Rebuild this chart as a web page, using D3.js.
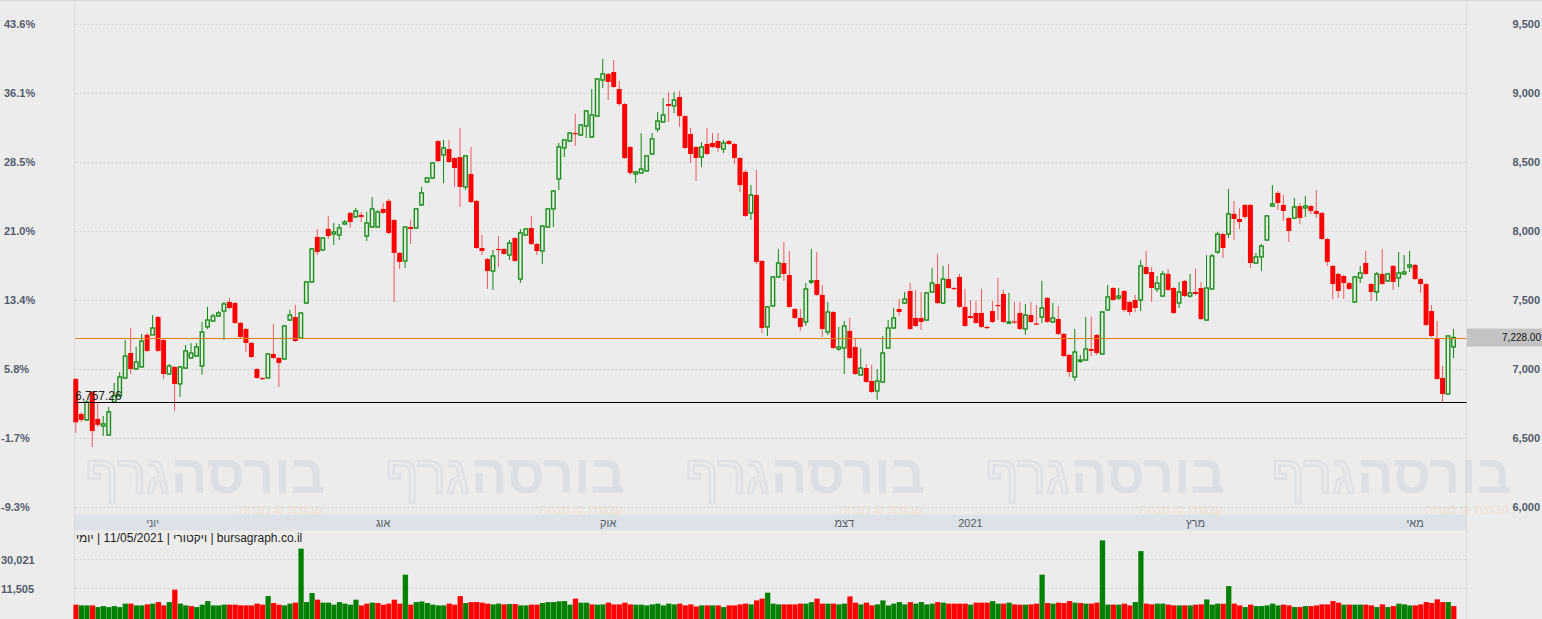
<!DOCTYPE html>
<html><head><meta charset="utf-8">
<script src="https://cdn.jsdelivr.net/npm/d3@7"></script>
<style>
html,body{margin:0;padding:0;background:#ececec;overflow:hidden;}
svg{display:block;font-family:"Liberation Sans",Arial,sans-serif;}
</style></head><body>
<svg id="c" width="1542" height="619"></svg>
<script>
const open = [6928,6674,6631,6834,6638,6587,6522,6761,6805,6935,7116,7000,7015,7247,7247,7377,7210,6964,7015,6892,7007,7080,7094,7022,7305,7348,7384,7420,7486,7478,7334,7290,7189,7000,6935,6935,7109,7080,7073,7355,7377,7225,7478,7631,7957,7862,8015,7978,7971,8051,8131,8102,8116,7964,8029,8029,8160,8218,8080,7841,7783,8029,8022,8189,8355,8384,8652,8551,8594,8529,8536,8319,8413,8218,7877,7797,7710,7870,7870,7826,7949,7652,7971,8022,7906,7855,8029,8160,8377,8602,8652,8710,8696,8761,8681,8833,9094,9138,9152,9029,8920,8609,8413,8420,8435,8558,8739,8790,8920,8906,8971,8833,8703,8609,8536,8631,8638,8652,8594,8652,8631,8529,8428,8131,8261,7783,7305,7457,7667,7768,7681,7435,7370,7341,7631,7645,7537,7268,7413,7145,7152,7276,7160,6957,7007,6913,6841,6906,7152,7297,7435,7478,7565,7370,7370,7355,7558,7616,7478,7652,7587,7667,7450,7384,7406,7406,7305,7420,7464,7544,7334,7345,7406,7290,7391,7330,7377,7515,7341,7362,7254,7102,6942,7058,7065,7145,7247,7109,7428,7587,7515,7565,7486,7500,7500,7739,7703,7580,7529,7689,7587,7478,7638,7529,7558,7587,7355,7580,7848,7978,7978,8124,8087,8189,8189,7768,7812,7935,8181,8276,8189,8094,8094,8181,8167,8181,8145,8131,7942,7747,7689,7674,7623,7486,7660,7768,7616,7558,7689,7638,7747,7660,7689,7739,7754,7652,7616,7420,7225,6935,6819,7160];
const high = [6935,6688,6775,6841,6755,6660,6725,6899,6978,7210,7297,7160,7254,7261,7391,7384,7218,7036,7022,7022,7174,7188,7188,7341,7450,7399,7420,7486,7515,7486,7341,7297,7196,7008,6942,7116,7326,7087,7319,7428,7464,7413,7638,7877,8015,7957,8109,8058,8051,8080,8138,8167,8138,8138,8247,8152,8203,8232,8087,7848,8036,8080,8167,8319,8392,8500,8660,8660,8660,8536,8747,8551,8609,8225,7971,7805,7862,7964,7877,7935,7957,8015,8022,8109,7913,8044,8167,8297,8638,8667,8717,8848,8776,8877,9029,9109,9246,9145,9239,9087,8927,8616,8435,8710,8551,8710,8862,8964,9007,9007,9014,8841,8747,8616,8645,8747,8710,8710,8660,8660,8638,8536,8442,8333,8442,7790,7457,7674,7870,7920,7855,7442,7435,7623,7870,7848,7609,7486,7420,7305,7348,7370,7225,7152,7036,7029,7000,7239,7355,7442,7507,7558,7623,7573,7558,7558,7732,7834,7747,7761,7594,7689,7580,7500,7493,7580,7312,7493,7660,7573,7551,7486,7486,7471,7486,7464,7638,7522,7478,7457,7261,7109,7290,7102,7377,7377,7254,7420,7609,7594,7587,7573,7493,7537,7790,7855,7739,7674,7710,7725,7594,7631,7645,7689,7725,7631,7826,7834,7993,7986,8305,8218,8167,8196,8196,7841,7906,8116,8333,8290,8261,8102,8239,8203,8254,8189,8297,8138,7949,7754,7696,7681,7631,7674,7747,7855,7623,7703,7870,7696,7754,7848,7826,7855,7761,7660,7623,7464,7348,7022,7246,7290];
const low = [6536,6616,6623,6435,6580,6515,6515,6754,6798,6928,6964,6993,7008,7123,7254,7123,6928,6957,6696,6797,7000,7073,7087,6957,7290,7341,7377,7210,7435,7326,7225,7123,7080,6928,6920,6928,7073,6870,7065,7348,7196,7218,7471,7624,7826,7855,7942,7899,7935,8044,8022,8095,8065,7928,8022,8022,8124,7978,7486,7725,7732,7906,8015,8181,8348,8377,8500,8348,8493,8319,8174,8297,8203,7870,7826,7580,7573,7739,7826,7790,7776,7623,7964,7899,7826,7761,8022,8029,8297,8536,8645,8616,8689,8674,8674,8826,9036,8949,9036,8906,8522,8406,8348,8413,8428,8551,8717,8783,8790,8855,8754,8594,8493,8363,8464,8551,8602,8573,8565,8624,8486,8283,8102,8080,7761,7261,7239,7450,7660,7638,7442,7362,7276,7312,7616,7530,7232,7246,7145,7131,6964,7073,6957,6950,6899,6826,6776,6899,7145,7290,7384,7471,7283,7305,7283,7348,7551,7471,7471,7580,7573,7442,7305,7362,7326,7297,7290,7334,7355,7334,7326,7326,7283,7247,7334,7319,7334,7334,7334,7247,7087,6942,6913,7044,7058,7094,7102,7102,7420,7493,7500,7413,7391,7413,7420,7681,7486,7558,7522,7565,7399,7442,7522,7515,7537,7355,7348,7573,7834,7805,7949,7935,8015,8087,7732,7761,7710,7928,8174,8152,8073,7920,8087,8051,8102,8123,8094,7935,7747,7507,7515,7507,7573,7478,7623,7681,7493,7493,7609,7631,7573,7594,7681,7703,7645,7551,7312,7232,6920,6757.26,6812,7080];
const close = [6614,6631,6761,6551,6595,6602,6689,6805,6942,7094,7000,7051,7203,7131,7297,7131,6964,7022,6892,7015,7131,7116,7160,7268,7355,7384,7406,7471,7442,7334,7232,7189,7087,6935,6930,7109,7080,7044,7312,7391,7203,7406,7631,7870,7848,7949,7964,7993,8022,8065,8065,8145,8102,8058,8160,8138,8131,7986,7841,7776,8029,8015,8160,8276,8384,8493,8507,8602,8500,8457,8319,8544,8210,7877,7855,7710,7819,7862,7834,7913,7783,7986,8015,7906,7855,8036,8160,8290,8609,8660,8710,8703,8768,8870,8841,9102,9138,9080,9044,8920,8529,8420,8428,8449,8544,8667,8797,8841,8906,8949,8833,8602,8558,8529,8609,8558,8609,8602,8638,8631,8529,8333,8109,8261,7776,7297,7450,7667,7768,7689,7450,7370,7305,7580,7638,7537,7290,7413,7152,7160,7312,7080,6964,7007,6906,6834,6913,7116,7297,7370,7413,7507,7290,7312,7341,7551,7623,7478,7652,7587,7580,7450,7312,7370,7334,7305,7297,7341,7457,7341,7341,7338,7290,7391,7341,7326,7442,7341,7370,7254,7094,6978,7123,7065,7145,7131,7116,7413,7522,7500,7529,7428,7413,7442,7747,7689,7587,7623,7689,7573,7406,7558,7529,7551,7544,7362,7587,7819,7978,7877,8124,8087,8065,8102,7768,7812,7891,8109,8196,8203,8145,8000,8174,8094,8181,8145,8124,7942,7776,7616,7565,7623,7580,7667,7696,7689,7558,7689,7616,7689,7631,7696,7703,7754,7652,7616,7319,7239,6928,6819,7239,7228];
const volume = [6710,6560,6560,6560,6200,6410,6200,6410,6200,6940,6940,6560,6560,6780,6940,7310,6560,7310,11020,6940,6560,6410,6200,6710,7560,6560,6560,6710,6710,6710,6560,6560,6560,6940,6710,8920,7080,6710,6560,6940,7170,42800,7310,9850,7910,7170,7170,6710,7310,6940,6710,7910,6560,6940,7170,7080,6710,6940,7910,6940,18100,6710,7310,7480,7080,6710,6560,6560,6940,6710,8920,7080,7310,7310,7170,6940,6780,6940,6780,6850,6850,6560,6560,6710,6710,7080,7310,7310,7500,
7560,6710,8180,7170,7170,6780,6710,6780,7170,6780,6780,7170,6780,6710,6710,6560,6780,6940,6560,6940,6780,6940,6560,6780,6340,6560,6560,6560,6560,6200,6560,6560,6780,6940,6780,7730,8180,9980,6940,6780,6780,6780,6780,6940,6940,7310,8180,6940,6940,6940,6780,6940,8830,7170,6780,7170,6560,6780,7730,6560,6940,7310,6780,7310,6940,7310,6780,6940,7310,7170,6940,6940,6940,6940,6710,7170,7170,7170,7560,6940,6940,7170,6780,6710,6710,6780,6940,18100,
7080,6940,7170,7080,7560,7170,7080,6940,6940,7170,56300,6710,6710,6710,6940,6560,7310,39500,6940,6780,6940,6940,6710,6560,6560,6560,6560,6710,6780,8000,6710,6940,6900,
12410,6940,6560,6200,6710,6410,6410,6560,6940,6560,6710,6560,6200,6200,6410,6410,6560,6780,6780,7560,7170,6710,6710,6710,6710,6710,6560,6200,6780,6200,6410,6940,6780,6560,6560,6780,7310,7080,8000,7310,7310,6410];

const priceTicks = [6000, 6500, 7000, 7500, 8000, 8500, 9000, 9500];
const volumeTicks = [11505, 30021];
const monthLabels = ["יוני", "אוג", "אוק", "דצמ", "2021", "מרץ", "מאי"];
const monthIndex = [14, 56, 97, 140, 163, 204, 244];
const lastPrice = 7228.00;
const recentLow = 6757.26;
const footerParts = ["יומי", "11/05/2021", "ויקטורי", "bursagraph.co.il"];
const wmMain = "בורסה", wmSecond = "גרף", wmTag = "קבוצת קו מנחה";

const n = close.length;
const svg = d3.select("#c");
const L = 74.5, R = 1466.5;
const x = d3.scaleBand().domain(d3.range(n)).range([73.3, 1456]).paddingInner(0.1);
const bw = x.bandwidth();
const cx = i => x(i) + bw / 2;
const y = d3.scaleLinear().domain([6000, 9500]).range([507, 24]);
const yv = d3.scaleLog().domain([11505, 30021]).range([588.3, 559.3]);
const base = close[0];
const fmt = d3.format(",");
const fmt2 = d3.format(",.2f");

// x band
svg.append("rect").attr("x", L + 0.5).attr("y", 514.5).attr("width", R - L - 1).attr("height", 16).attr("fill", "#dde2e9");

// watermark (last copy nudged so it clears the right axis labels)
for (let k = 0; k < 5; k++) {
  const x0 = 85 + 300 * k - (k === 4 ? 14 : 0);
  svg.append("text").attr("x", x0 + 240).attr("y", 493).attr("text-anchor", "end")
    .attr("font-size", 54).attr("font-weight", "bold").attr("fill", "#dce0e4").text(wmMain);
  svg.append("text").attr("x", x0 + 84).attr("y", 493).attr("text-anchor", "end")
    .attr("font-size", 54).attr("fill", "none").attr("stroke", "#dee2e6").attr("stroke-width", 2.5).text(wmSecond);
  svg.append("text").attr("x", x0 + 238).attr("y", 513.5).attr("text-anchor", "end")
    .attr("font-size", 13).attr("fill", "#efdfcc").text(wmTag);
}

// separators
svg.append("line").attr("x1", L).attr("x2", L).attr("y1", 0).attr("y2", 619).attr("stroke", "#d9d9d9");
svg.append("line").attr("x1", R).attr("x2", R).attr("y1", 0).attr("y2", 619).attr("stroke", "#d9d9d9");
svg.append("line").attr("x1", 0).attr("x2", 1542).attr("y1", 0.5).attr("y2", 0.5).attr("stroke", "#d6d6d6");

// price grid
svg.append("g").selectAll("line").data(priceTicks).join("line")
  .attr("x1", L + 1).attr("x2", R - 1).attr("y1", d => Math.round(y(d)) + 0.5).attr("y2", d => Math.round(y(d)) + 0.5)
  .attr("stroke", "#d2d2d2").attr("stroke-dasharray", "2,2");

// left % labels
svg.append("g").selectAll("text").data(priceTicks).join("text")
  .attr("x", d => d < base ? 1 : 4).attr("y", d => y(d)).attr("dy", "0.35em")
  .attr("font-size", 11).attr("font-weight", "bold").attr("fill", "#515b6c")
  .text(d => ((d / base - 1) * 100).toFixed(1) + "%");
// right price labels
svg.append("g").selectAll("text").data(priceTicks).join("text")
  .attr("x", 1540).attr("y", d => y(d)).attr("dy", "0.35em").attr("text-anchor", "end")
  .attr("font-size", 11).attr("font-weight", "bold").attr("fill", "#515b6c")
  .text(d => fmt(d));

// month labels
svg.append("g").selectAll("text").data(monthLabels).join("text")
  .attr("x", (d, i) => cx(monthIndex[i])).attr("y", 523.5).attr("dy", "0.35em").attr("text-anchor", "middle")
  .attr("font-size", 11).attr("fill", "#555c66").text(d => d);

// candles
const idx = d3.range(n);
const g = svg.append("g");
const up = i => close[i] >= open[i];
g.selectAll("line.w").data(idx).join("line").attr("class", "w")
  .attr("x1", cx).attr("x2", cx)
  .attr("y1", i => y(high[i])).attr("y2", i => y(low[i]))
  .attr("stroke", i => up(i) ? "#118a11" : "#f25a5a").attr("stroke-width", 1);
g.selectAll("rect.b").data(idx).join("rect").attr("class", "b")
  .attr("x", i => up(i) ? x(i) + 0.7 : x(i))
  .attr("width", i => up(i) ? bw - 1.4 : bw)
  .attr("y", i => y(Math.max(open[i], close[i])))
  .attr("height", i => Math.max(1.2, Math.abs(y(open[i]) - y(close[i]))))
  .attr("fill", i => up(i) ? "#ececec" : "#ff0000")
  .attr("stroke", i => up(i) ? "#178f17" : "none")
  .attr("stroke-width", 1.4);

// reference lines
svg.append("line").attr("x1", L + 1).attr("x2", R)
  .attr("y1", Math.round(y(lastPrice)) + 0.5).attr("y2", Math.round(y(lastPrice)) + 0.5)
  .attr("stroke", "#e57c0e").attr("stroke-width", 1.2);
svg.append("line").attr("x1", L + 1).attr("x2", R)
  .attr("y1", Math.floor(y(recentLow)) + 0.5).attr("y2", Math.floor(y(recentLow)) + 0.5)
  .attr("stroke", "#000").attr("stroke-width", 1.2);
svg.append("text").attr("x", 75).attr("y", y(recentLow) - 2).attr("font-size", 12).attr("fill", "#222")
  .text(fmt2(recentLow));
svg.append("rect").attr("x", 1467).attr("y", y(lastPrice) - 9).attr("width", 75).attr("height", 18).attr("fill", "#c3c3c3");
svg.append("text").attr("x", 1541).attr("y", y(lastPrice)).attr("dy", "0.35em").attr("text-anchor", "end")
  .attr("font-size", 10).attr("fill", "#111").text(fmt2(lastPrice));

// volume grid + labels
svg.append("g").selectAll("line").data(volumeTicks).join("line")
  .attr("x1", L + 1).attr("x2", R - 1).attr("y1", d => Math.round(yv(d)) + 0.5).attr("y2", d => Math.round(yv(d)) + 0.5)
  .attr("stroke", "#cfd3d8").attr("stroke-dasharray", "2,2");
svg.append("g").selectAll("text").data(volumeTicks).join("text")
  .attr("x", 1).attr("y", d => yv(d) + 1).attr("dy", "0.35em")
  .attr("font-size", 11).attr("font-weight", "bold").attr("fill", "#515b6c").text(d => fmt(d));

// volume bars
svg.append("g").selectAll("rect").data(idx).join("rect")
  .attr("x", x).attr("width", bw + 0.5)
  .attr("y", i => yv(volume[i])).attr("height", i => 620 - yv(volume[i]))
  .attr("fill", i => (i === 0 ? close[0] < open[0] : close[i] < close[i - 1]) ? "#ff0000" : "#008000")
  .attr("stroke", "rgba(255,255,255,0.25)").attr("stroke-width", 0.6);

// footer text
svg.append("text").attr("x", 76).attr("y", 542).attr("font-size", 12).attr("fill", "#222")
  .text(footerParts.join("\u200E | "));
</script>
</body></html>
